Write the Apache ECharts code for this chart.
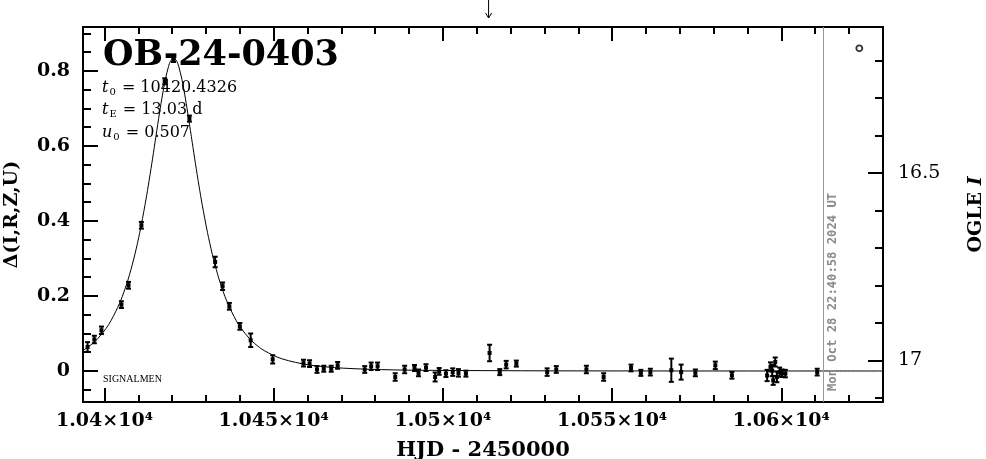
<!DOCTYPE html>
<html><head><meta charset="utf-8">
<script src="https://cdn.jsdelivr.net/npm/echarts@6/dist/echarts.min.js"></script>
<style>html,body{margin:0;padding:0;background:#fff}#c{width:986px;height:459px}</style>
</head><body><div id="c"></div>
<script>
// ---- data ----
const obsT = [10395.0,10397.0,10399.1,10405.0,10407.1,10410.9,10417.8,10420.4,10425.1,10432.7,10434.9,10436.9,10440.0,10443.2,10449.7,10458.8,10460.6,10462.8,10464.8,10467.0,10468.9,10476.9,10478.8,10480.7,10485.9,10488.7,10491.6,10492.8,10495.0,10497.7,10498.9,10500.9,10502.9,10504.6,10506.8,10513.8,10516.8,10518.7,10521.7,10530.8,10533.5,10542.4,10547.5,10555.6,10558.5,10561.3,10567.5,10570.4,10574.6,10580.5,10585.4,10595.8,10596.8,10597.3,10597.6,10598.2,10598.7,10599.5,10600.2,10601.2,10610.6];
const obsD = [0.064,0.084,0.1085,0.177,0.2285,0.3885,0.7725,0.830,0.673,0.2907,0.226,0.1725,0.119,0.082,0.031,0.021,0.0197,0.004,0.006,0.006,0.015,0.004,0.0125,0.0125,-0.016,0.004,0.008,-0.005,0.009,-0.016,-0.001,-0.007,-0.003,-0.005,-0.007,0.048,-0.003,0.017,0.0197,-0.003,0.004,0.004,-0.016,0.008,-0.005,-0.003,0.002,-0.003,-0.005,0.015,-0.0115,-0.012,0.011,0.001,-0.025,0.024,-0.016,-0.003,-0.006,-0.007,-0.003];
const obsE = [0.013,0.010,0.010,0.009,0.009,0.009,0.008,0.006,0.008,0.014,0.010,0.009,0.009,0.018,0.011,0.009,0.009,0.009,0.008,0.008,0.009,0.009,0.010,0.010,0.010,0.010,0.008,0.009,0.009,0.012,0.009,0.009,0.010,0.010,0.008,0.022,0.008,0.010,0.008,0.010,0.009,0.010,0.010,0.009,0.008,0.009,0.031,0.020,0.009,0.010,0.009,0.015,0.012,0.015,0.012,0.012,0.014,0.012,0.010,0.010,0.009];
const modelT = [10393.65,10396.43,10398,10400.43,10402,10404.43,10406,10407.43,10409,10410.43,10412,10412.93,10414,10414.93,10416,10416.93,10418,10418.93,10419.5,10420.43,10421.36,10421.93,10422.86,10423.93,10424.86,10425.93,10426.86,10427.93,10428.86,10430.43,10431.86,10433.43,10434.86,10436.43,10438.86,10440.43,10442.86,10444.43,10447.21,10452.43,10460.43,10470.43,10485.43,10500.43,10530.43,10560,10600,10630.05];
const modelD = [0.0543,0.0727,0.0862,0.1130,0.1354,0.1800,0.2172,0.2579,0.3115,0.3696,0.4441,0.4935,0.5542,0.6094,0.6731,0.7256,0.7783,0.8123,0.8261,0.8349,0.8261,0.8123,0.7783,0.7256,0.6731,0.6094,0.5542,0.4935,0.4441,0.3696,0.3115,0.2579,0.2172,0.1800,0.1354,0.1130,0.0862,0.0727,0.0543,0.0325,0.0162,0.0076,0.0029,0.0015,0.0004,0.0001,0,0];
const xMajorTicks = [10400,10450,10500,10550,10600];
const xMinorTicks = [10400,10410,10420,10430,10440,10450,10460,10470,10480,10490,10500,10510,10520,10530,10540,10550,10560,10570,10580,10590,10600,10610,10620,10630];
const yMajorTicks = [0,0.2,0.4,0.6,0.8];
const yMinorTicks = [-0.05,0,0.05,0.1,0.15,0.2,0.25,0.3,0.35,0.4,0.45,0.5,0.55,0.6,0.65,0.7,0.75,0.8,0.85,0.9];
const magMajorTicks = [16.5,17];
const magMinorTicks = [16.2,16.3,16.4,16.5,16.6,16.7,16.8,16.9,17.0,17.1];
const xRange = [10393.65, 10630.05];
const yRange = [-0.0827, 0.9173];
const magRange = [16.111, 17.111];
const nowT = 10612.5;
const nowLabel = 'Mon Oct 28 22:40:58 2024 UT';
const arrowT = 10513.5;
const markerPt = [10623.05, 0.8605];
const eventName = 'OB-24-0403';
const params = ['{it|t}{sub|0} = 10420.4326', '{it|t}{sub|E} = 13.03 d', '{it|u}{sub|0} = 0.507'];

// ---- chart ----
const SERIF = '"DejaVu Serif", serif';
const black = '#000';
const lineS = {color: black, width: 2};
function xAx(pos, ticks, len, showLine, labels) {
  return {
    type: 'value', min: xRange[0], max: xRange[1], position: pos,
    axisLine: {show: showLine, onZero: false, lineStyle: lineS},
    axisTick: {show: true, inside: true, length: len, customValues: ticks, lineStyle: lineS},
    axisLabel: labels ? {
      customValues: xMajorTicks, margin: 10, color: black, fontFamily: SERIF, fontWeight: 'bold', fontSize: 19,
      formatter: v => (v / 10000) + '×10⁴'
    } : {show: false},
    splitLine: {show: false}
  };
}
function yAx(pos, range, ticks, len, showLine, labelVals, inverse) {
  return {
    type: 'value', min: range[0], max: range[1], position: pos, inverse: !!inverse,
    axisLine: {show: showLine, onZero: false, lineStyle: lineS},
    axisTick: {show: true, inside: true, length: len, customValues: ticks, lineStyle: lineS},
    axisLabel: labelVals ? {customValues: labelVals, show: true} : {show: false},
    splitLine: {show: false}
  };
}
const xAxes = [xAx('bottom', xMajorTicks, 14, true, true), xAx('bottom', xMinorTicks, 7, false, false),
               xAx('top', xMajorTicks, 14, true, false), xAx('top', xMinorTicks, 7, false, false)];
xAxes[0].name = 'HJD - 2450000';
xAxes[0].nameLocation = 'middle';
xAxes[0].nameGap = 38;
xAxes[0].nameTextStyle = {color: black, fontFamily: SERIF, fontWeight: 'bold', fontSize: 21};

const yL = yAx('left', yRange, yMajorTicks, 15, true, yMajorTicks);
yL.axisLabel = {customValues: yMajorTicks, margin: 13, color: black, fontFamily: SERIF, fontWeight: 'bold', fontSize: 19};
yL.name = 'Δ(I,R,Z,U)'; yL.nameLocation = 'middle'; yL.nameGap = 61; yL.nameRotate = 90;
yL.nameTextStyle = {color: black, fontFamily: SERIF, fontWeight: 'bold', fontSize: 19};
const yLm = yAx('left', yRange, yMinorTicks, 8, false, null);
const yR = yAx('right', magRange, magMajorTicks, 15, true, magMajorTicks, true);
yR.axisLabel = {customValues: magMajorTicks, margin: 15, color: black, fontFamily: SERIF, fontSize: 19, formatter: v => String(v)};
yR.name = '{a|OGLE }{i|I}'; yR.nameLocation = 'middle'; yR.nameGap = 84; yR.nameRotate = 90;
yR.nameTextStyle = {color: black, fontFamily: SERIF, fontWeight: 'bold', fontSize: 19,
  rich: {a: {fontFamily: SERIF, fontWeight: 'bold', fontSize: 19, color: black},
         i: {fontFamily: SERIF, fontWeight: 'bold', fontStyle: 'italic', fontSize: 19, color: black}}};
const yRm = yAx('right', magRange, magMinorTicks, 8, false, null, true);

const chart = echarts.init(document.getElementById('c'), null, {renderer: 'canvas'});
const paramRich = {
  it: {fontFamily: SERIF, fontStyle: 'italic', fontSize: 16, color: black},
  sub: {fontFamily: SERIF, fontSize: 10, color: black, verticalAlign: 'bottom', padding: [8, 1, 0, 1]}
};
chart.setOption({
  animation: false,
  backgroundColor: '#fff',
  grid: {left: 83, right: 103, top: 27, bottom: 57, containLabel: false, outerBoundsMode: 'none'},
  xAxis: xAxes,
  yAxis: [yL, yLm, yR, yRm],
  graphic: [
    {type: 'text', x: 103, y: 56, style: {text: eventName, fontFamily: SERIF, fontWeight: 'bold', fontSize: 35, fill: black, verticalAlign: 'middle'}},
    {type: 'text', x: 102, y: 88, style: {text: params[0], fontFamily: SERIF, fontSize: 16, fill: black, verticalAlign: 'middle', rich: paramRich}},
    {type: 'text', x: 102, y: 110, style: {text: params[1], fontFamily: SERIF, fontSize: 16, fill: black, verticalAlign: 'middle', rich: paramRich}},
    {type: 'text', x: 102, y: 133, style: {text: params[2], fontFamily: SERIF, fontSize: 16, fill: black, verticalAlign: 'middle', rich: paramRich}},
    {type: 'text', x: 103, y: 379, style: {text: 'SIGNALMEN', fontFamily: '"Liberation Serif", serif', fontSize: 10, fill: black, verticalAlign: 'middle'}}
  ],
  series: [
    {
      type: 'line', name: 'model', data: modelT.map((t, i) => [t, modelD[i]]),
      showSymbol: false, smooth: 0.3, lineStyle: {color: black, width: 1}, clip: true, z: 3,
      markLine: {
        silent: true, symbol: ['none', 'none'],
        lineStyle: {color: '#999', width: 1, type: 'solid'},
        label: {show: true, formatter: nowLabel, position: 'insideStartBottom', distance: [11, 3],
                color: '#8a8a8a', fontFamily: '"DejaVu Sans Mono", monospace', fontWeight: 'bold', fontSize: 12.2},
        data: [{xAxis: nowT}]
      }
    },
    {
      type: 'custom', name: 'obs', data: obsT.map((t, i) => [t, obsD[i], obsE[i]]),
      encode: {x: 0, y: 1}, z: 5,
      renderItem: function (p, api) {
        const x = api.value(0), y = api.value(1), e = api.value(2);
        const c = api.coord([x, y]), t = api.coord([x, y + e]), b = api.coord([x, y - e]);
        const st = {stroke: black, lineWidth: 2};
        return {type: 'group', children: [
          {type: 'line', shape: {x1: c[0], y1: t[1], x2: c[0], y2: b[1]}, style: st},
          {type: 'line', shape: {x1: c[0] - 2.5, y1: t[1], x2: c[0] + 2.5, y2: t[1]}, style: st},
          {type: 'line', shape: {x1: c[0] - 2.5, y1: b[1], x2: c[0] + 2.5, y2: b[1]}, style: st},
          {type: 'rect', shape: {x: c[0] - 2, y: c[1] - 2, width: 4, height: 4}, style: {fill: black}}
        ]};
      }
    },
    {
      type: 'scatter', name: 'marker', data: [markerPt], symbol: 'circle', symbolSize: 6,
      itemStyle: {color: '#fff', borderColor: black, borderWidth: 1.8}, z: 6
    },
    {
      type: 'custom', name: 'arrow', data: [[arrowT, yRange[1]]], encode: {x: 0, y: 1}, clip: false, z: 6,
      renderItem: function (p, api) {
        const c = api.coord([api.value(0), api.value(1)]);
        const st = {stroke: black, lineWidth: 1};
        const tipY = c[1] - 9;
        return {type: 'group', children: [
          {type: 'line', shape: {x1: c[0], y1: c[1] - 27, x2: c[0], y2: tipY}, style: st},
          {type: 'polyline', shape: {points: [[c[0] - 3, tipY - 5], [c[0], tipY], [c[0] + 3, tipY - 5]]}, style: {stroke: black, lineWidth: 1, fill: null}}
        ]};
      }
    }
  ]
});
</script></body></html>
